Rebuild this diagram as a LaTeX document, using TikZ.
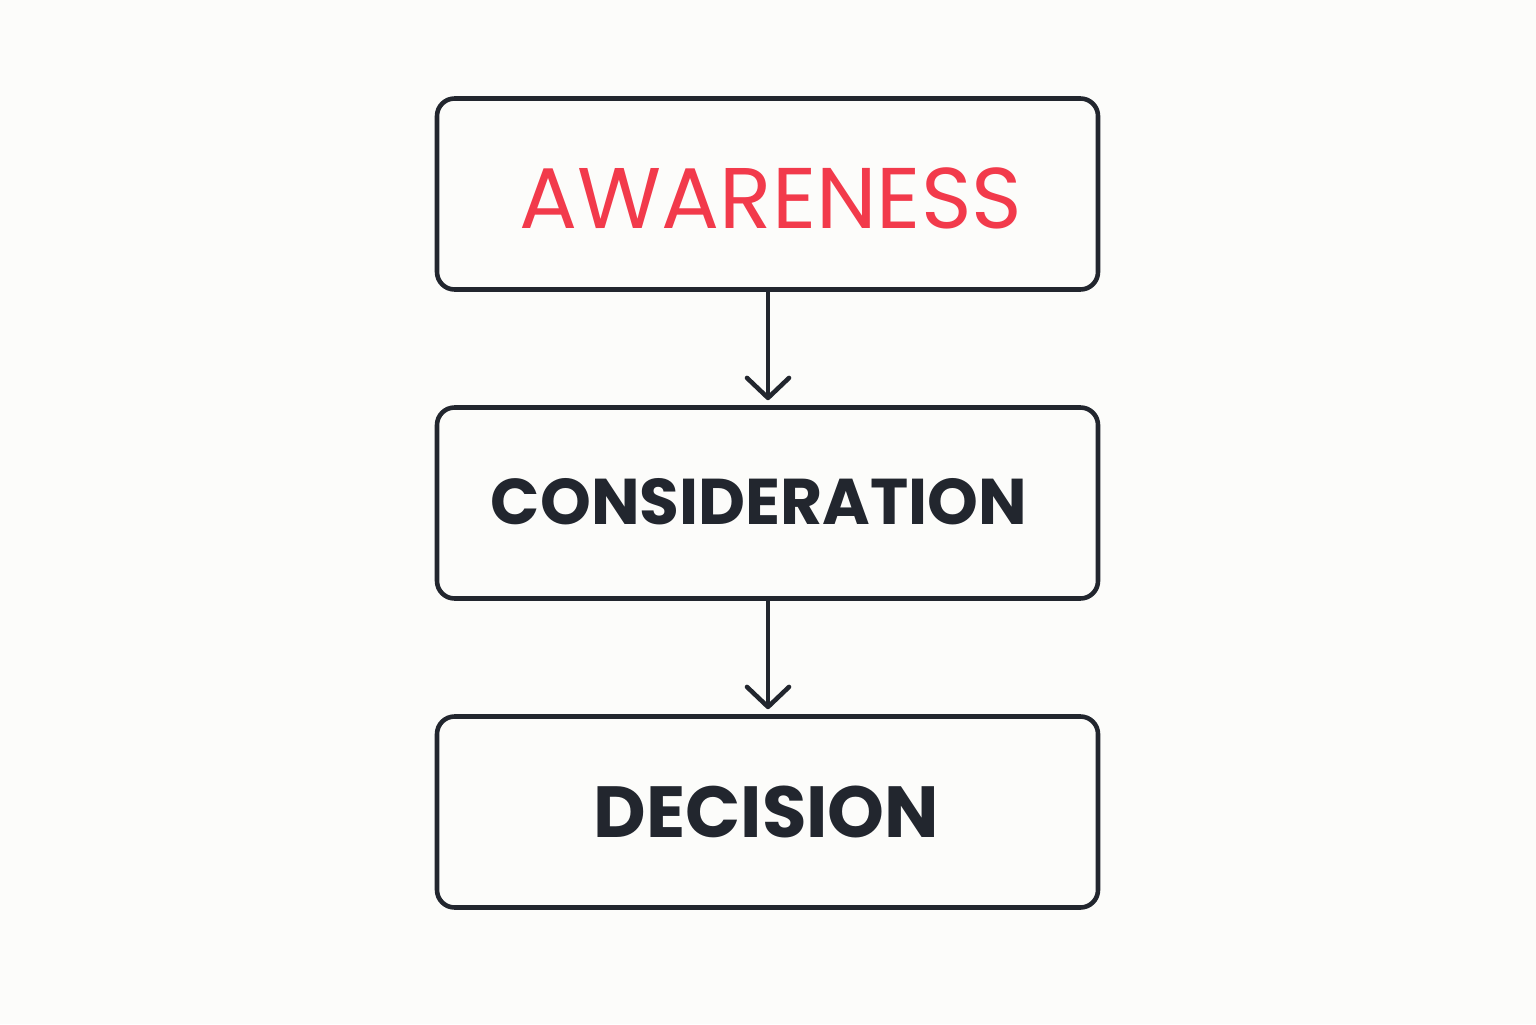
\documentclass[tikz,border=0pt]{standalone}
\usepackage{fontspec}
\setmainfont{Poppins}
\usetikzlibrary{arrows.meta}
\definecolor{ink}{HTML}{22262E}
\definecolor{red1}{HTML}{F23A4B}
\definecolor{bg}{HTML}{FCFCFA}
\begin{document}
\begin{tikzpicture}[
  stage/.style={draw=ink, line width=1.3pt, rounded corners=5pt, minimum width=6.61cm, minimum height=1.91cm, inner sep=0pt},
  flow/.style={draw=ink, line width=1.3pt, shorten >=0.5mm, -{Straight Barb[length=2mm,width=4.2mm,line width=1.3pt,round]}}
]
\fill[bg] (0,0) rectangle (15.36,10.24);
\node[stage] (a) at (7.675,8.30) {};
\node[stage] (c) at (7.675,5.21) {};
\node[stage] (d) at (7.675,2.12) {};
\node[text=red1, font=\fontsize{24.5}{30}\selectfont] (ta) at (7.71,8.26) {AWARENESS};
\node[text=ink, font=\fontsize{18.4}{22}\selectfont\bfseries] (tc) at (7.59,5.22) {CONSIDERATION};
\node[text=ink, font=\fontsize{20.6}{25}\selectfont\bfseries] (td) at (7.665,2.12) {DECISION};
\draw[flow] (a.south -| 7.68,0) -- (c.north -| 7.68,0);
\draw[flow] (c.south -| 7.68,0) -- (d.north -| 7.68,0);
\end{tikzpicture}
\end{document}
